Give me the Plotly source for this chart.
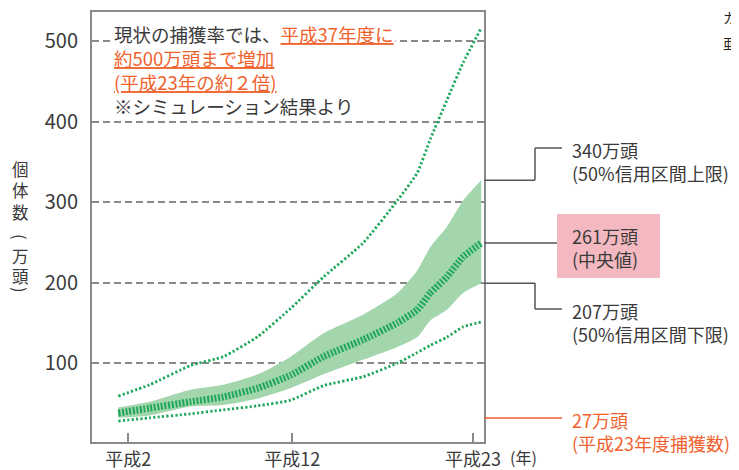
import plotly.graph_objects as go

# ---- data ----
years = [1.4, 3.3, 5.8, 7.8, 9.9, 11.9, 13.9, 16.3, 18.4, 19.6, 20.4, 21.4, 22.4, 23.5]
upper_dotted = [59, 73, 97, 108, 133, 168, 207, 249, 302, 336, 378, 426, 473, 516]
band_upper = [45, 52, 67, 73, 86, 108, 137, 160, 187, 215, 244, 269, 302, 327]
median = [38, 44, 52, 58, 69, 85, 108, 129, 150, 166, 187, 207, 232, 249]
band_lower = [32, 35, 46, 48, 56, 69, 86, 104, 120, 132, 153, 166, 187, 199]
lower_dotted = [28, 32, 37, 42, 47, 54, 72, 83, 100, 113, 122, 132, 145, 151]

x_tick_vals = [2, 12, 23]
x_tick_text = ["平成2", "平成12", "平成23"]
y_tick_vals = [100, 200, 300, 400, 500]

label_upper = "340万頭"
label_median = "261万頭"
label_lower = "207万頭"
label_capture = "27万頭"

# ---- styles ----
FONT = "Noto Sans CJK JP"
GREEN = "#1fa85b"
BAND = "#a3d6ac"
ORANGE = "#f0622d"
DARK = "#3a3a3a"
GRID = "#8a8a8a"

fig = go.Figure()

fig.add_trace(go.Scatter(x=years, y=band_lower, mode="lines",
                         line=dict(width=0, color=BAND, shape="spline", smoothing=0.6),
                         hoverinfo="skip", showlegend=False))
fig.add_trace(go.Scatter(x=years, y=band_upper, mode="lines", fill="tonexty",
                         fillcolor=BAND,
                         line=dict(width=0, color=BAND, shape="spline", smoothing=0.6),
                         hoverinfo="skip", showlegend=False))
fig.add_trace(go.Scatter(x=years, y=upper_dotted, mode="lines",
                         line=dict(width=2.8, color=GREEN, dash="2.2px,2.2px",
                                   shape="spline", smoothing=0.5),
                         showlegend=False))
fig.add_trace(go.Scatter(x=years, y=lower_dotted, mode="lines",
                         line=dict(width=2.8, color=GREEN, dash="2.2px,2.2px",
                                   shape="spline", smoothing=0.5),
                         showlegend=False))
fig.add_trace(go.Scatter(x=years, y=median, mode="lines",
                         line=dict(width=7, color=GREEN, dash="2px,1.6px",
                                   shape="spline", smoothing=0.5),
                         showlegend=False))

# page has an 8px body margin; figure origin sits at (8, 8)
OFF = 8
W, H = 739 - OFF, 470 - OFF
# plot area in page pixels: left 92, right 484, top 12, bottom 442
L, R, T, B = 92, 484, 12, 442


def px(x):
    return (x - L) / (R - L)


def py(y):
    return (B - y) / (B - T)


shapes = []
line_gray = dict(color="#555555", width=1.5)
line_orange = dict(color=ORANGE, width=1.5)

# upper 50% leader
shapes += [
    dict(type="line", xref="paper", yref="y", x0=1.0, x1=px(535),
         y0=band_upper[-1], y1=band_upper[-1], line=line_gray),
    dict(type="line", xref="paper", yref="paper", x0=px(535), x1=px(535),
         y0=py(180), y1=py(148), line=line_gray),
    dict(type="line", xref="paper", yref="paper", x0=px(535), x1=px(562),
         y0=py(148), y1=py(148), line=line_gray),
]
# median leader + pink box
shapes += [
    dict(type="rect", xref="paper", yref="paper", x0=px(557), x1=px(660),
         y0=py(278), y1=py(214), fillcolor="#f4b9c0", line=dict(width=0),
         layer="below"),
    dict(type="line", xref="paper", yref="y", x0=1.0, x1=px(557),
         y0=median[-1], y1=median[-1], line=line_gray),
]
# lower 50% leader
shapes += [
    dict(type="line", xref="paper", yref="y", x0=1.0, x1=px(535),
         y0=band_lower[-1], y1=band_lower[-1], line=line_gray),
    dict(type="line", xref="paper", yref="paper", x0=px(535), x1=px(535),
         y0=py(283), y1=py(309), line=line_gray),
    dict(type="line", xref="paper", yref="paper", x0=px(535), x1=px(562),
         y0=py(309), y1=py(309), line=line_gray),
]
# capture leader
shapes += [
    dict(type="line", xref="paper", yref="paper", x0=1.0, x1=px(562),
         y0=py(418), y1=py(418), line=line_orange),
]

anns = []
# top-left note
note = ("現状の捕獲率では、<span style='color:%s'><u>平成37年度に</u></span><br>"
        "<span style='color:%s'><u>約500万頭まで増加</u></span><br>"
        "<span style='color:%s'><u>(平成23年の約２倍)</u></span><br>"
        "※シミュレーション結果より") % (ORANGE, ORANGE, ORANGE)
anns.append(dict(text=note, xref="paper", yref="paper", x=px(112), y=py(19),
                 xanchor="left", yanchor="top", align="left", showarrow=False,
                 bgcolor="white", borderpad=1,
                 font=dict(family=FONT, size=18.5, color=DARK)))

# y axis title (vertical, one glyph per line; parentheses rotated)
title_chars = [("個", 169, 0), ("体", 190, 0), ("数", 212, 0), ("(", 237, 90),
               ("万", 256, 0), ("頭", 276, 0), (")", 290, 90)]
for ch, yc, ang in title_chars:
    anns.append(dict(text=ch, xref="paper", yref="paper", x=px(20), y=py(yc),
                     xanchor="center", yanchor="middle", showarrow=False,
                     textangle=ang, font=dict(family=FONT, size=16.5, color=DARK)))


# right labels
def right_label(text, ycenter, color=DARK):
    anns.append(dict(text=text, xref="paper", yref="paper", x=px(570), y=py(ycenter),
                     xanchor="left", yanchor="middle", align="left", showarrow=False,
                     font=dict(family=FONT, size=18, color=color)))


right_label(label_upper + "<br>(50%信用区間上限)", 161)
right_label(label_median + "<br>(中央値)", 247)
right_label(label_lower + "<br>(50%信用区間下限)", 322)
right_label(label_capture + "<br>(平成23年度捕獲数)", 431, ORANGE)

# (年)
anns.append(dict(text="(年)", xref="paper", yref="paper", x=px(508), y=py(457),
                 xanchor="left", yanchor="middle", showarrow=False,
                 font=dict(family=FONT, size=16, color=DARK)))

# stray characters cut off at the right edge of the source page
anns.append(dict(text="カ", xref="paper", yref="paper", x=px(721), y=py(17),
                 xanchor="left", yanchor="middle", showarrow=False,
                 font=dict(family=FONT, size=14, color="#222")))
anns.append(dict(text="亜", xref="paper", yref="paper", x=px(721), y=py(43),
                 xanchor="left", yanchor="middle", showarrow=False,
                 font=dict(family=FONT, size=14, color="#222")))

fig.update_layout(
    width=W, height=H,
    margin=dict(l=L - OFF, r=W - (R - OFF), t=T - OFF, b=H - (B - OFF)),
    paper_bgcolor="white", plot_bgcolor="white",
    shapes=shapes, annotations=anns,
    font=dict(family=FONT, color=DARK),
    xaxis=dict(range=[-0.2, 23.67], tickvals=x_tick_vals, ticktext=x_tick_text,
               ticks="inside", ticklen=9, tickwidth=1.5, tickcolor=GRID,
               showgrid=False, zeroline=False, showline=True, linecolor=GRID,
               linewidth=2, mirror=True, automargin=False,
               tickfont=dict(family=FONT, size=18, color=DARK)),
    yaxis=dict(range=[2, 536], tickvals=y_tick_vals, ticks="",
               showgrid=True, gridcolor=GRID, gridwidth=2, griddash="7px,4px",
               zeroline=False, showline=True, linecolor=GRID, linewidth=2,
               mirror=True, ticklabelstandoff=8, automargin=False,
               tickfont=dict(family=FONT, size=20, color=DARK)),
)

fig.write_html("out.html")
